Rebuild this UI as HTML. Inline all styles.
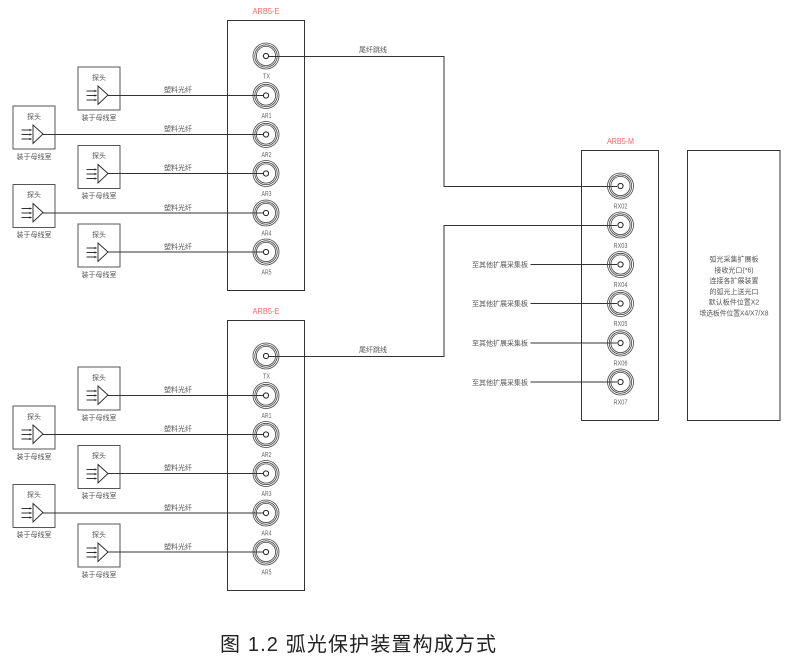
<!DOCTYPE html>
<html><head><meta charset="utf-8"><style>
html,body{margin:0;padding:0;background:#fff;width:809px;height:661px;overflow:hidden}
svg{display:block}
text{font-family:"Liberation Sans","Noto Sans CJK SC",sans-serif;font-size:7px;fill:#555;text-anchor:middle}
.m{font-family:"Liberation Sans",sans-serif;font-size:7px;fill:#666}
.r{fill:#f66;font-size:8.5px;font-family:"Liberation Sans",sans-serif}
.l{fill:none;stroke:#333;stroke-width:1}
</style></head><body>
<svg width="809" height="661" viewBox="0 0 809 661" xmlns="http://www.w3.org/2000/svg">
<defs>
<g id="c" fill="none" stroke="#444" stroke-width="0.8"><circle r="13"/><circle r="11.2"/><circle r="9.6"/><circle r="2.6" fill="#fff" stroke="#222" stroke-width="1"/></g>
<g id="p">
<rect x="0.5" y="0.5" width="42" height="43" fill="#fff" stroke="#555" stroke-width="1"/>
<path d="M20.5 19.5 L30.5 28.5 L20.5 38 Z" fill="#fff" stroke="#222" stroke-width="0.9"/>
<path d="M9 24.5H19M9 29H19M9 33.5H19" stroke="#333" stroke-width="0.9" fill="none"/>
<path d="M17 23.4L19.5 24.5L17 25.6ZM17 27.9L19.5 29L17 30.1ZM17 32.4L19.5 33.5L17 34.6Z" fill="#222"/>
</g>
<g id="b">
<rect x="227.5" y="20.5" width="77" height="270" fill="#fff" stroke="#333"/>
<use href="#p" x="77.5" y="66.5"/><use href="#p" x="12.5" y="105.5"/><use href="#p" x="77.5" y="145"/><use href="#p" x="12.5" y="184"/><use href="#p" x="77.5" y="223.5"/>
<path class="l" d="M108 95.5H263M43 134.5H263M108 173.5H263M43 213H263M108 252H263"/>
<use href="#c" x="266" y="56"/><use href="#c" x="266" y="95.5"/><use href="#c" x="266" y="134.5"/><use href="#c" x="266" y="173.5"/><use href="#c" x="266" y="213"/><use href="#c" x="266" y="252"/>
</g>
</defs>
<use href="#b"/>
<use href="#b" y="300"/>
<rect x="581.5" y="150.5" width="77" height="270" fill="#fff" stroke="#333"/>
<rect x="687.5" y="150.5" width="92.5" height="270" fill="#fff" stroke="#333"/>
<path class="l" d="M269 56.5H444V186.5H617M617 225.5H444V356.5H269"/>
<path class="l" d="M530.5 264.5H617M530.5 303.5H617M530.5 343H617M530.5 382H617"/>
<use href="#c" x="620.5" y="186"/><use href="#c" x="620.5" y="225"/><use href="#c" x="620.5" y="264.5"/><use href="#c" x="620.5" y="303.5"/><use href="#c" x="620.5" y="343"/><use href="#c" x="620.5" y="382"/>

<text class="r" x="266" y="14" textLength="27" lengthAdjust="spacingAndGlyphs">ARB5-E</text>
<text class="r" x="266" y="314" textLength="27" lengthAdjust="spacingAndGlyphs">ARB5-E</text>
<text class="r" x="620.5" y="144" textLength="27" lengthAdjust="spacingAndGlyphs">ARB5-M</text>

<text x="99" y="80">探头</text><text x="34" y="119">探头</text><text x="99" y="158">探头</text><text x="34" y="197">探头</text><text x="99" y="237">探头</text>
<text x="99" y="120">装于母线室</text><text x="34" y="159">装于母线室</text><text x="99" y="198">装于母线室</text><text x="34" y="237">装于母线室</text><text x="99" y="277">装于母线室</text>
<text x="178" y="92">塑料光纤</text><text x="178" y="131">塑料光纤</text><text x="178" y="170">塑料光纤</text><text x="178" y="210">塑料光纤</text><text x="178" y="249">塑料光纤</text>
<text class="m" x="266.5" y="78.5" textLength="7" lengthAdjust="spacingAndGlyphs">TX</text><text class="m" x="266.5" y="118" textLength="10" lengthAdjust="spacingAndGlyphs">AR1</text><text class="m" x="266.5" y="157" textLength="10" lengthAdjust="spacingAndGlyphs">AR2</text><text class="m" x="266.5" y="196" textLength="10" lengthAdjust="spacingAndGlyphs">AR3</text><text class="m" x="266.5" y="235.5" textLength="10" lengthAdjust="spacingAndGlyphs">AR4</text><text class="m" x="266.5" y="274.5" textLength="10" lengthAdjust="spacingAndGlyphs">AR5</text>
<text x="373" y="52">尾纤跳线</text>

<text x="99" y="380">探头</text><text x="34" y="419">探头</text><text x="99" y="458">探头</text><text x="34" y="497">探头</text><text x="99" y="537">探头</text>
<text x="99" y="420">装于母线室</text><text x="34" y="459">装于母线室</text><text x="99" y="498">装于母线室</text><text x="34" y="537">装于母线室</text><text x="99" y="577">装于母线室</text>
<text x="178" y="392">塑料光纤</text><text x="178" y="431">塑料光纤</text><text x="178" y="470">塑料光纤</text><text x="178" y="510">塑料光纤</text><text x="178" y="549">塑料光纤</text>
<text class="m" x="266.5" y="378.5" textLength="7" lengthAdjust="spacingAndGlyphs">TX</text><text class="m" x="266.5" y="418" textLength="10" lengthAdjust="spacingAndGlyphs">AR1</text><text class="m" x="266.5" y="457" textLength="10" lengthAdjust="spacingAndGlyphs">AR2</text><text class="m" x="266.5" y="496" textLength="10" lengthAdjust="spacingAndGlyphs">AR3</text><text class="m" x="266.5" y="535.5" textLength="10" lengthAdjust="spacingAndGlyphs">AR4</text><text class="m" x="266.5" y="574.5" textLength="10" lengthAdjust="spacingAndGlyphs">AR5</text>
<text x="373" y="352">尾纤跳线</text>

<text class="m" x="620.5" y="208.5" textLength="14" lengthAdjust="spacingAndGlyphs">RX02</text><text class="m" x="620.5" y="248" textLength="14" lengthAdjust="spacingAndGlyphs">RX03</text><text class="m" x="620.5" y="287" textLength="14" lengthAdjust="spacingAndGlyphs">RX04</text><text class="m" x="620.5" y="326" textLength="14" lengthAdjust="spacingAndGlyphs">RX05</text><text class="m" x="620.5" y="365.5" textLength="14" lengthAdjust="spacingAndGlyphs">RX06</text><text class="m" x="620.5" y="404.5" textLength="14" lengthAdjust="spacingAndGlyphs">RX07</text>
<text x="500" y="267">至其他扩展采集板</text><text x="500" y="306">至其他扩展采集板</text><text x="500" y="345.5">至其他扩展采集板</text><text x="500" y="385">至其他扩展采集板</text>

<text x="734" y="261.5">弧光采集扩展板</text>
<text x="734" y="272.5">接收光口(*6)</text>
<text x="734" y="283">连接各扩展装置</text>
<text x="734" y="294">的弧光上送光口</text>
<text x="734" y="304.5">默认板件位置X2</text>
<text x="734" y="315.5" textLength="69" lengthAdjust="spacingAndGlyphs">增选板件位置X4/X7/X8</text>

<text x="358" y="651" textLength="276" style="font-size:20px;fill:#222">图 1.2 弧光保护装置构成方式</text>
</svg>
</body></html>
